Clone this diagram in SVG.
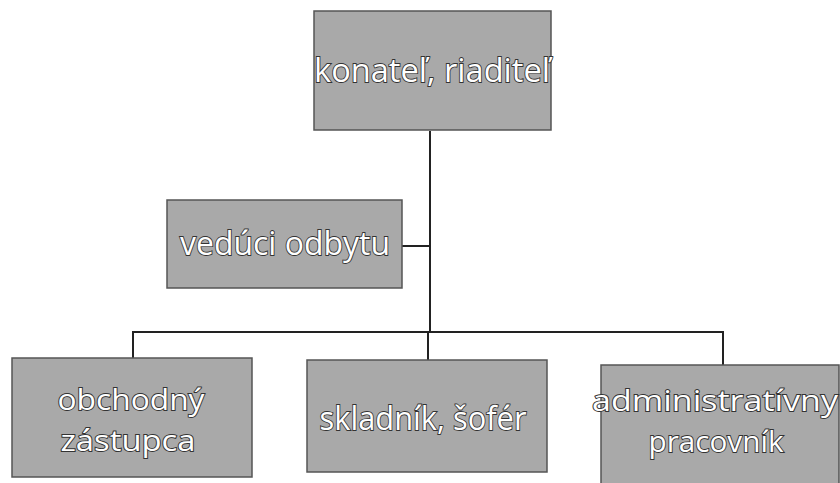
<svg xmlns="http://www.w3.org/2000/svg" width="840" height="483" viewBox="0 0 840 483">
<style>
.box{fill:#a9a9a9;stroke:#555;stroke-width:1.5}
.t{font-family:"Open Sans","Liberation Sans",sans-serif;font-size:33px;fill:#fff;stroke:#333;stroke-width:1.8;paint-order:stroke;text-anchor:middle}
.s{font-size:29px}
.c{fill:none;stroke:#222;stroke-width:2}
</style>
<rect width="840" height="483" fill="#fff"/>
<g id="connectors">
<path class="c" d="M430 131 V333"/>
<path class="c" d="M402 246 H430"/>
<path class="c" d="M133 358 V332 H723 V365"/>
<path class="c" d="M428 332 V360"/>
</g>
<g id="n1">
<rect class="box" x="314" y="11" width="237" height="119"/>
<text class="t" x="432" y="82" textLength="236" lengthAdjust="spacingAndGlyphs">konateľ, riaditeľ</text>
</g>
<g id="n2">
<rect class="box" x="167" y="200" width="235" height="88"/>
<text class="t" x="285" y="255" textLength="210" lengthAdjust="spacingAndGlyphs">vedúci odbytu</text>
</g>
<g id="n3">
<rect class="box" x="12" y="358" width="240" height="119"/>
<text class="t s" x="131" y="410" textLength="147" lengthAdjust="spacingAndGlyphs">obchodný</text>
<text class="t s" x="128" y="451" textLength="135" lengthAdjust="spacingAndGlyphs">zástupca</text>
</g>
<g id="n4">
<rect class="box" x="307" y="360" width="240" height="112"/>
<text class="t" x="423" y="430" textLength="207" lengthAdjust="spacingAndGlyphs">skladník, šofér</text>
</g>
<g id="n5">
<rect class="box" x="601" y="365" width="238" height="125"/>
<text class="t s" x="715" y="411" textLength="246" lengthAdjust="spacingAndGlyphs">administratívny</text>
<text class="t s" x="716" y="452" textLength="135" lengthAdjust="spacingAndGlyphs">pracovník</text>
</g>
</svg>
